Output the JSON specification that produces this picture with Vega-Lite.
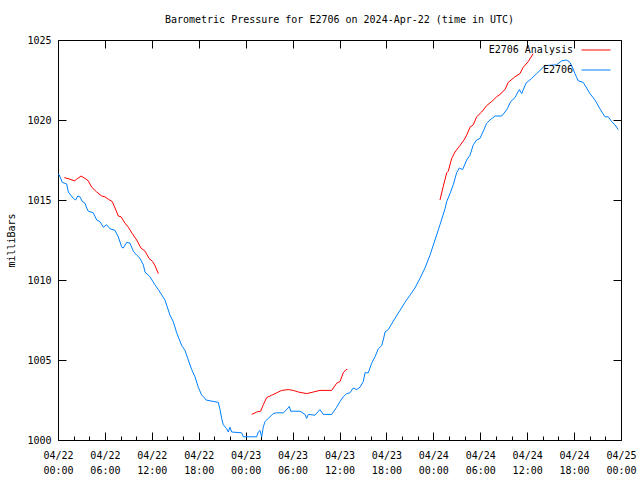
{
  "$schema": "https://vega.github.io/schema/vega-lite/v6.json",
  "width": 563,
  "height": 400,
  "autosize": "none",
  "padding": {"left": 58, "top": 40, "right": 19, "bottom": 40},
  "background": "white",
  "config": {
    "view": {"stroke": "black", "strokeWidth": 1, "fill": null},
    "font": "DejaVu Sans Mono",
    "axis": {"domain": false, "grid": false, "ticks": true, "zindex": 1, "tickColor": "black", "tickWidth": 1, "tickOpacity": 1, "labelFlush": false, "labelOverlap": false, "labelFont": "DejaVu Sans Mono", "labelFontSize": 10, "labelColor": "black", "titleFont": "DejaVu Sans Mono", "titleFontWeight": "normal", "titleFontSize": 10, "titleColor": "black"},
    "legend": {"labelFont": "DejaVu Sans Mono", "labelFontSize": 10, "labelColor": "black"}
  },
  "title": {"text": "Barometric Pressure for E2706 on 2024-Apr-22 (time in UTC)", "font": "DejaVu Sans Mono", "fontSize": 10, "fontWeight": "normal", "color": "black", "anchor": "middle", "offset": 10},
  "data": {"values": [
    {"s":"E2706","seg":"b","h":0,"p":1016.6},{"s":"E2706","seg":"b","h":0.13,"p":1016.6},{"s":"E2706","seg":"b","h":0.55,"p":1016.1},{"s":"E2706","seg":"b","h":1.11,"p":1016.0},{"s":"E2706","seg":"b","h":1.32,"p":1015.5},{"s":"E2706","seg":"b","h":1.96,"p":1015.1},{"s":"E2706","seg":"b","h":2.26,"p":1015.0},{"s":"E2706","seg":"b","h":2.52,"p":1015.25},{"s":"E2706","seg":"b","h":2.81,"p":1015.2},{"s":"E2706","seg":"b","h":3.11,"p":1014.9},{"s":"E2706","seg":"b","h":3.45,"p":1014.8},{"s":"E2706","seg":"b","h":3.67,"p":1014.5},{"s":"E2706","seg":"b","h":3.87,"p":1014.3},{"s":"E2706","seg":"b","h":4.51,"p":1014.2},{"s":"E2706","seg":"b","h":4.95,"p":1013.75},{"s":"E2706","seg":"b","h":5.37,"p":1013.65},{"s":"E2706","seg":"b","h":5.79,"p":1013.3},{"s":"E2706","seg":"b","h":6.23,"p":1013.45},{"s":"E2706","seg":"b","h":6.65,"p":1013.2},{"s":"E2706","seg":"b","h":7.29,"p":1013.1},{"s":"E2706","seg":"b","h":7.71,"p":1012.7},{"s":"E2706","seg":"b","h":8.15,"p":1012.05},{"s":"E2706","seg":"b","h":8.35,"p":1012.0},{"s":"E2706","seg":"b","h":8.79,"p":1012.35},{"s":"E2706","seg":"b","h":9.21,"p":1012.3},{"s":"E2706","seg":"b","h":9.63,"p":1011.8},{"s":"E2706","seg":"b","h":10.06,"p":1011.55},{"s":"E2706","seg":"b","h":10.49,"p":1011.35},{"s":"E2706","seg":"b","h":10.91,"p":1010.95},{"s":"E2706","seg":"b","h":11.13,"p":1010.5},{"s":"E2706","seg":"b","h":11.76,"p":1010.2},{"s":"E2706","seg":"b","h":12.4,"p":1009.7},{"s":"E2706","seg":"b","h":12.83,"p":1009.4},{"s":"E2706","seg":"b","h":13.68,"p":1008.75},{"s":"E2706","seg":"b","h":14.32,"p":1007.8},{"s":"E2706","seg":"b","h":14.74,"p":1007.4},{"s":"E2706","seg":"b","h":15.18,"p":1006.7},{"s":"E2706","seg":"b","h":15.82,"p":1005.9},{"s":"E2706","seg":"b","h":16.24,"p":1005.6},{"s":"E2706","seg":"b","h":16.66,"p":1005.0},{"s":"E2706","seg":"b","h":17.1,"p":1004.4},{"s":"E2706","seg":"b","h":17.52,"p":1003.95},{"s":"E2706","seg":"b","h":17.94,"p":1003.3},{"s":"E2706","seg":"b","h":18.38,"p":1002.8},{"s":"E2706","seg":"b","h":18.8,"p":1002.6},{"s":"E2706","seg":"b","h":18.93,"p":1002.5},{"s":"E2706","seg":"b","h":19.44,"p":1002.45},{"s":"E2706","seg":"b","h":20.5,"p":1002.35},{"s":"E2706","seg":"b","h":20.72,"p":1001.9},{"s":"E2706","seg":"b","h":20.93,"p":1001.35},{"s":"E2706","seg":"b","h":21.14,"p":1000.95},{"s":"E2706","seg":"b","h":21.57,"p":1000.7},{"s":"E2706","seg":"b","h":21.78,"p":1000.5},{"s":"E2706","seg":"b","h":21.99,"p":1000.8},{"s":"E2706","seg":"b","h":22.21,"p":1000.5},{"s":"E2706","seg":"b","h":23.49,"p":1000.45},{"s":"E2706","seg":"b","h":23.7,"p":1000.2},{"s":"E2706","seg":"b","h":25.41,"p":1000.2},{"s":"E2706","seg":"b","h":25.61,"p":1000.5},{"s":"E2706","seg":"b","h":25.83,"p":1000.6},{"s":"E2706","seg":"b","h":26.05,"p":1000.2},{"s":"E2706","seg":"b","h":26.25,"p":1000.8},{"s":"E2706","seg":"b","h":26.47,"p":1001.15},{"s":"E2706","seg":"b","h":26.69,"p":1001.25},{"s":"E2706","seg":"b","h":26.89,"p":1001.35},{"s":"E2706","seg":"b","h":27.11,"p":1001.45},{"s":"E2706","seg":"b","h":27.53,"p":1001.65},{"s":"E2706","seg":"b","h":27.97,"p":1001.7},{"s":"E2706","seg":"b","h":28.81,"p":1001.7},{"s":"E2706","seg":"b","h":29.25,"p":1001.9},{"s":"E2706","seg":"b","h":29.58,"p":1002.1},{"s":"E2706","seg":"b","h":29.76,"p":1001.8},{"s":"E2706","seg":"b","h":30.95,"p":1001.8},{"s":"E2706","seg":"b","h":31.59,"p":1001.6},{"s":"E2706","seg":"b","h":31.8,"p":1001.35},{"s":"E2706","seg":"b","h":32.01,"p":1001.6},{"s":"E2706","seg":"b","h":32.86,"p":1001.55},{"s":"E2706","seg":"b","h":33.5,"p":1001.9},{"s":"E2706","seg":"b","h":33.93,"p":1001.6},{"s":"E2706","seg":"b","h":35.0,"p":1001.6},{"s":"E2706","seg":"b","h":35.64,"p":1002.05},{"s":"E2706","seg":"b","h":36.06,"p":1002.4},{"s":"E2706","seg":"b","h":36.48,"p":1002.7},{"s":"E2706","seg":"b","h":36.92,"p":1002.9},{"s":"E2706","seg":"b","h":37.34,"p":1002.95},{"s":"E2706","seg":"b","h":37.76,"p":1003.25},{"s":"E2706","seg":"b","h":38.2,"p":1003.15},{"s":"E2706","seg":"b","h":38.62,"p":1003.3},{"s":"E2706","seg":"b","h":39.04,"p":1003.65},{"s":"E2706","seg":"b","h":39.26,"p":1004.2},{"s":"E2706","seg":"b","h":39.68,"p":1004.2},{"s":"E2706","seg":"b","h":40.12,"p":1004.8},{"s":"E2706","seg":"b","h":40.54,"p":1005.2},{"s":"E2706","seg":"b","h":40.96,"p":1005.7},{"s":"E2706","seg":"b","h":41.39,"p":1005.9},{"s":"E2706","seg":"b","h":41.6,"p":1006.25},{"s":"E2706","seg":"b","h":41.82,"p":1006.75},{"s":"E2706","seg":"b","h":42.24,"p":1006.9},{"s":"E2706","seg":"b","h":43.09,"p":1007.6},{"s":"E2706","seg":"b","h":43.73,"p":1008.1},{"s":"E2706","seg":"b","h":44.37,"p":1008.6},{"s":"E2706","seg":"b","h":45.01,"p":1009.05},{"s":"E2706","seg":"b","h":45.65,"p":1009.5},{"s":"E2706","seg":"b","h":46.29,"p":1010.1},{"s":"E2706","seg":"b","h":46.93,"p":1010.75},{"s":"E2706","seg":"b","h":47.57,"p":1011.55},{"s":"E2706","seg":"b","h":48.21,"p":1012.5},{"s":"E2706","seg":"b","h":48.85,"p":1013.45},{"s":"E2706","seg":"b","h":49.49,"p":1014.45},{"s":"E2706","seg":"b","h":49.71,"p":1014.9},{"s":"E2706","seg":"b","h":50.13,"p":1015.4},{"s":"E2706","seg":"b","h":50.55,"p":1015.95},{"s":"E2706","seg":"b","h":50.98,"p":1016.7},{"s":"E2706","seg":"b","h":51.32,"p":1017.0},{"s":"E2706","seg":"b","h":51.75,"p":1016.9},{"s":"E2706","seg":"b","h":52.26,"p":1017.5},{"s":"E2706","seg":"b","h":52.69,"p":1017.8},{"s":"E2706","seg":"b","h":53.11,"p":1018.45},{"s":"E2706","seg":"b","h":53.54,"p":1018.75},{"s":"E2706","seg":"b","h":53.96,"p":1018.85},{"s":"E2706","seg":"b","h":54.48,"p":1019.4},{"s":"E2706","seg":"b","h":54.82,"p":1019.8},{"s":"E2706","seg":"b","h":55.24,"p":1020.0},{"s":"E2706","seg":"b","h":55.88,"p":1020.25},{"s":"E2706","seg":"b","h":56.74,"p":1020.25},{"s":"E2706","seg":"b","h":57.16,"p":1020.5},{"s":"E2706","seg":"b","h":57.46,"p":1020.7},{"s":"E2706","seg":"b","h":57.89,"p":1021.15},{"s":"E2706","seg":"b","h":58.44,"p":1021.4},{"s":"E2706","seg":"b","h":58.99,"p":1021.9},{"s":"E2706","seg":"b","h":59.3,"p":1021.65},{"s":"E2706","seg":"b","h":59.85,"p":1022.3},{"s":"E2706","seg":"b","h":60.58,"p":1022.6},{"s":"E2706","seg":"b","h":61.21,"p":1022.9},{"s":"E2706","seg":"b","h":61.64,"p":1023.1},{"s":"E2706","seg":"b","h":62.28,"p":1023.4},{"s":"E2706","seg":"b","h":63.77,"p":1023.45},{"s":"E2706","seg":"b","h":64.41,"p":1023.7},{"s":"E2706","seg":"b","h":65.05,"p":1023.75},{"s":"E2706","seg":"b","h":65.47,"p":1023.6},{"s":"E2706","seg":"b","h":65.82,"p":1023.25},{"s":"E2706","seg":"b","h":66.11,"p":1022.9},{"s":"E2706","seg":"b","h":66.53,"p":1022.45},{"s":"E2706","seg":"b","h":67.17,"p":1022.35},{"s":"E2706","seg":"b","h":67.61,"p":1022.0},{"s":"E2706","seg":"b","h":68.03,"p":1021.65},{"s":"E2706","seg":"b","h":68.67,"p":1021.25},{"s":"E2706","seg":"b","h":69.31,"p":1020.7},{"s":"E2706","seg":"b","h":69.95,"p":1020.2},{"s":"E2706","seg":"b","h":70.37,"p":1020.2},{"s":"E2706","seg":"b","h":70.81,"p":1019.9},{"s":"E2706","seg":"b","h":71.23,"p":1019.7},{"s":"E2706","seg":"b","h":71.65,"p":1019.4},
    {"s":"E2706 Analysis","seg":"a1","h":0.81,"p":1016.4},{"s":"E2706 Analysis","seg":"a1","h":1.53,"p":1016.3},{"s":"E2706 Analysis","seg":"a1","h":2.08,"p":1016.2},{"s":"E2706 Analysis","seg":"a1","h":2.39,"p":1016.3},{"s":"E2706 Analysis","seg":"a1","h":2.94,"p":1016.5},{"s":"E2706 Analysis","seg":"a1","h":3.45,"p":1016.35},{"s":"E2706 Analysis","seg":"a1","h":3.87,"p":1016.2},{"s":"E2706 Analysis","seg":"a1","h":4.31,"p":1015.8},{"s":"E2706 Analysis","seg":"a1","h":4.95,"p":1015.5},{"s":"E2706 Analysis","seg":"a1","h":5.59,"p":1015.25},{"s":"E2706 Analysis","seg":"a1","h":6.01,"p":1015.2},{"s":"E2706 Analysis","seg":"a1","h":6.43,"p":1015.05},{"s":"E2706 Analysis","seg":"a1","h":6.94,"p":1014.9},{"s":"E2706 Analysis","seg":"a1","h":7.29,"p":1014.5},{"s":"E2706 Analysis","seg":"a1","h":7.71,"p":1014.0},{"s":"E2706 Analysis","seg":"a1","h":8.06,"p":1013.95},{"s":"E2706 Analysis","seg":"a1","h":8.57,"p":1013.55},{"s":"E2706 Analysis","seg":"a1","h":8.99,"p":1013.3},{"s":"E2706 Analysis","seg":"a1","h":9.5,"p":1012.9},{"s":"E2706 Analysis","seg":"a1","h":10.06,"p":1012.5},{"s":"E2706 Analysis","seg":"a1","h":10.61,"p":1012.0},{"s":"E2706 Analysis","seg":"a1","h":11.13,"p":1011.8},{"s":"E2706 Analysis","seg":"a1","h":11.64,"p":1011.35},{"s":"E2706 Analysis","seg":"a1","h":12.11,"p":1011.15},{"s":"E2706 Analysis","seg":"a1","h":12.4,"p":1010.9},{"s":"E2706 Analysis","seg":"a1","h":12.83,"p":1010.4},
    {"s":"E2706 Analysis","seg":"a2","h":24.77,"p":1001.6},{"s":"E2706 Analysis","seg":"a2","h":25.41,"p":1001.75},{"s":"E2706 Analysis","seg":"a2","h":25.92,"p":1001.8},{"s":"E2706 Analysis","seg":"a2","h":26.25,"p":1002.2},{"s":"E2706 Analysis","seg":"a2","h":26.69,"p":1002.65},{"s":"E2706 Analysis","seg":"a2","h":27.33,"p":1002.8},{"s":"E2706 Analysis","seg":"a2","h":27.97,"p":1002.95},{"s":"E2706 Analysis","seg":"a2","h":28.61,"p":1003.1},{"s":"E2706 Analysis","seg":"a2","h":29.45,"p":1003.15},{"s":"E2706 Analysis","seg":"a2","h":30.09,"p":1003.1},{"s":"E2706 Analysis","seg":"a2","h":30.73,"p":1003.0},{"s":"E2706 Analysis","seg":"a2","h":31.8,"p":1002.9},{"s":"E2706 Analysis","seg":"a2","h":32.65,"p":1003.0},{"s":"E2706 Analysis","seg":"a2","h":33.5,"p":1003.1},{"s":"E2706 Analysis","seg":"a2","h":35.0,"p":1003.1},{"s":"E2706 Analysis","seg":"a2","h":35.64,"p":1003.55},{"s":"E2706 Analysis","seg":"a2","h":36.06,"p":1003.65},{"s":"E2706 Analysis","seg":"a2","h":36.48,"p":1004.2},{"s":"E2706 Analysis","seg":"a2","h":36.83,"p":1004.4},{"s":"E2706 Analysis","seg":"a2","h":37.0,"p":1004.4},
    {"s":"E2706 Analysis","seg":"a3","h":48.85,"p":1015.0},{"s":"E2706 Analysis","seg":"a3","h":49.27,"p":1015.85},{"s":"E2706 Analysis","seg":"a3","h":49.71,"p":1016.7},{"s":"E2706 Analysis","seg":"a3","h":49.91,"p":1016.8},{"s":"E2706 Analysis","seg":"a3","h":50.35,"p":1017.6},{"s":"E2706 Analysis","seg":"a3","h":50.77,"p":1018.0},{"s":"E2706 Analysis","seg":"a3","h":51.32,"p":1018.35},{"s":"E2706 Analysis","seg":"a3","h":51.92,"p":1018.75},{"s":"E2706 Analysis","seg":"a3","h":52.26,"p":1019.05},{"s":"E2706 Analysis","seg":"a3","h":52.69,"p":1019.55},{"s":"E2706 Analysis","seg":"a3","h":53.11,"p":1019.7},{"s":"E2706 Analysis","seg":"a3","h":53.54,"p":1020.2},{"s":"E2706 Analysis","seg":"a3","h":54.18,"p":1020.5},{"s":"E2706 Analysis","seg":"a3","h":54.82,"p":1020.9},{"s":"E2706 Analysis","seg":"a3","h":55.46,"p":1021.15},{"s":"E2706 Analysis","seg":"a3","h":56.1,"p":1021.45},{"s":"E2706 Analysis","seg":"a3","h":56.52,"p":1021.6},{"s":"E2706 Analysis","seg":"a3","h":57.16,"p":1021.9},{"s":"E2706 Analysis","seg":"a3","h":57.58,"p":1022.35},{"s":"E2706 Analysis","seg":"a3","h":58.44,"p":1022.7},{"s":"E2706 Analysis","seg":"a3","h":59.08,"p":1022.9},{"s":"E2706 Analysis","seg":"a3","h":59.5,"p":1023.3},{"s":"E2706 Analysis","seg":"a3","h":60.14,"p":1023.65},{"s":"E2706 Analysis","seg":"a3","h":60.77,"p":1024.15}
  ]},
  "resolve": {"axis": {"x": "independent", "y": "independent"}},
  "layer": [
    {
      "mark": {"type": "line", "strokeWidth": 1},
      "encoding": {
        "x": {"field": "h", "type": "quantitative", "scale": {"domain": [0, 72], "nice": false, "zero": false},
              "axis": {"orient": "bottom", "title": null, "values": [0,2,4,6,8,10,12,14,16,18,20,22,24,26,28,30,32,34,36,38,40,42,44,46,48,50,52,54,56,58,60,62,64,66,68,70,72],
                       "tickSize": {"condition": {"test": "datum.value % 6 === 0", "value": -8}, "value": -4},
                       "labelPadding": 18, "labelLineHeight": 15, "labelBaseline": "top",
                       "labelExpr": "datum.value % 6 === 0 ? ['04/' + (22 + floor(datum.value / 24)), ((datum.value % 24) < 10 ? '0' : '') + (datum.value % 24) + ':00'] : ''"}},
        "y": {"field": "p", "type": "quantitative", "scale": {"domain": [1000, 1025], "nice": false, "zero": false},
              "axis": {"orient": "left", "title": "milliBars", "values": [1000,1005,1010,1015,1020,1025],
                       "tickSize": 8, "offset": -8, "labelPadding": 7, "format": "d", "titlePadding": 10}},
        "color": {"field": "s", "type": "nominal", "scale": {"domain": ["E2706 Analysis", "E2706"], "range": ["#ff0000", "#0080ff"]},
                  "legend": {"title": null, "orient": "none", "legendX": 523, "legendY": -5, "symbolType": "stroke", "symbolSize": 841, "symbolStrokeWidth": 1, "labelAlign": "right", "labelOffset": -38, "rowPadding": -16, "padding": 0}},
        "detail": {"field": "seg", "type": "nominal"},
        "order": {"field": "h", "type": "quantitative"}
      }
    },
    {
      "mark": {"type": "line", "strokeWidth": 1, "opacity": 0},
      "encoding": {
        "x": {"field": "h", "type": "quantitative",
              "axis": {"orient": "top", "title": null, "labels": false, "values": [0,6,12,18,24,30,36,42,48,54,60,66,72], "tickSize": 8, "offset": -8}},
        "y": {"field": "p", "type": "quantitative",
              "axis": {"orient": "right", "title": null, "labels": false, "values": [1000,1005,1010,1015,1020,1025], "tickSize": 8, "offset": -8}},
        "color": {"field": "s", "type": "nominal"},
        "detail": {"field": "seg", "type": "nominal"},
        "order": {"field": "h", "type": "quantitative"}
      }
    }
  ]
}
